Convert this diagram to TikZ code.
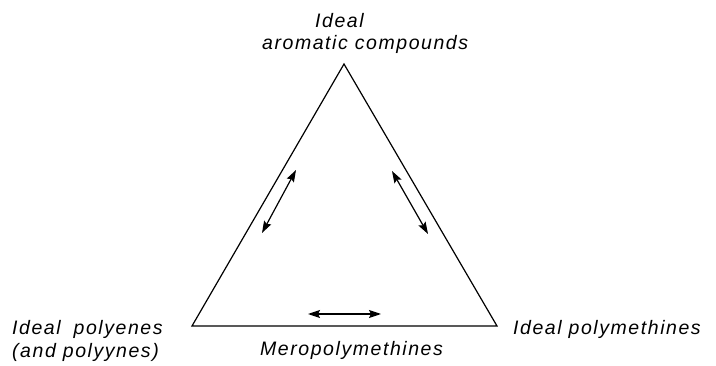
\documentclass[tikz,border=0pt]{standalone}
\usepackage{fontspec}
\setmainfont{Liberation Sans}[LetterSpace=8]
\usetikzlibrary{arrows.meta}
\begin{document}
\begin{tikzpicture}[x=1pt,y=-1pt,
  lbl/.style={inner sep=0pt,font=\itshape\fontsize{19.5}{23}\selectfont},
  edge/.style={line width=1.2pt},
  dbl/.style={line width=1.2pt,{Stealth[length=12pt,width=8pt,inset=2pt]}-{Stealth[length=12pt,width=8pt,inset=2pt]}}]
\useasboundingbox (0,0) rectangle (716,366);
\coordinate (A) at (344,64);
\coordinate (L) at (192,326);
\coordinate (R) at (497,326);
\draw[edge,line join=miter] (A) -- (L) -- (R) -- cycle;
\node[lbl,anchor=base west] (t1) at (315,28) {Ideal};
\node[lbl,anchor=base west] (t2) at (262,50) {aromatic compounds};
\node[lbl,anchor=base west] (l1) at (12,335) {Ideal\hspace{6pt} polyenes};
\node[lbl,anchor=base west] (l2) at (12,358) {(and polyynes)};
\node[lbl,anchor=base west] (r1) at (513,335) {Ideal polymethines};
\node[lbl,anchor=base west] (m1) at (260,356) {Meropolymethines};
\coordinate (a1) at (296,170);
\coordinate (a2) at (262,233);
\coordinate (b1) at (392,171);
\coordinate (b2) at (428,234);
\coordinate (c1) at (308,314);
\coordinate (c2) at (381,314);
\draw[dbl] (a1) -- (a2);
\draw[dbl] (b1) -- (b2);
\draw[dbl] (c1) -- (c2);
\end{tikzpicture}
\end{document}
